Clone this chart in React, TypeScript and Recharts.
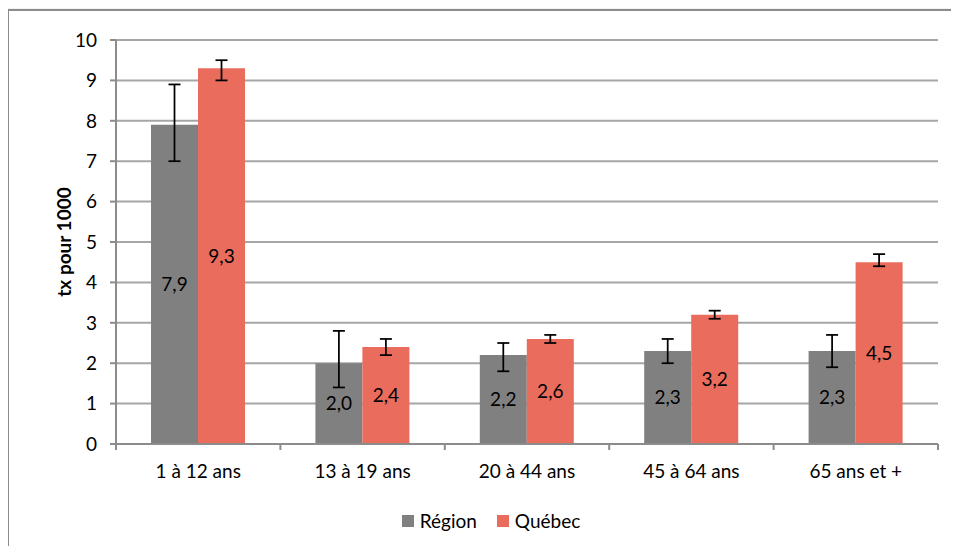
import React from 'react';
import { BarChart, Bar, XAxis, YAxis, CartesianGrid, ErrorBar, LabelList, Legend } from 'recharts';

const categories = ['1 à 12 ans', '13 à 19 ans', '20 à 44 ans', '45 à 64 ans', '65 ans et +'];
const regionValues = [7.9, 2.0, 2.2, 2.3, 2.3];
const quebecValues = [9.3, 2.4, 2.6, 3.2, 4.5];
// [minus, plus]
const regionErrors = [[0.9, 1.0], [0.6, 0.8], [0.4, 0.3], [0.3, 0.3], [0.4, 0.4]];
const quebecErrors = [[0.3, 0.2], [0.2, 0.2], [0.1, 0.1], [0.1, 0.1], [0.1, 0.2]];
const yTicks = [0, 1, 2, 3, 4, 5, 6, 7, 8, 9, 10];
const seriesNames = ['Région', 'Québec'];
const yTitle = 'tx pour 1000';

const data = categories.map((c, i) => ({
  cat: c,
  region: regionValues[i],
  quebec: quebecValues[i],
  regionErr: regionErrors[i],
  quebecErr: quebecErrors[i],
}));

const FONT = 'Lato, "Open Sans", sans-serif';
const GRAY = '#808080';
const RED = '#E96C5D';
const AXIS = '#8c8c8c';
const TICK_SIZE = 6;
const TICK_MARGIN = 15;

const fmt = (v: any) => (typeof v === 'number' ? v.toFixed(1).replace('.', ',') : v);

const XTick = (props: any) => {
  const { x, y, payload, index } = props;
  const half = payload && typeof payload.offset === 'number' && payload.offset > 0 ? payload.offset : 82.2;
  const axisY = y - TICK_SIZE - TICK_MARGIN;
  return (
    <g>
      <line x1={x - half} x2={x - half} y1={axisY} y2={axisY + TICK_SIZE} stroke={AXIS} strokeWidth={2} />
      {index === categories.length - 1 && (
        <line x1={x + half} x2={x + half} y1={axisY} y2={axisY + TICK_SIZE} stroke={AXIS} strokeWidth={2} />
      )}
      <text x={x} y={y} dy="0.71em" textAnchor="middle" fill="#000" fontSize={19} fontFamily={FONT}>
        {payload.value}
      </text>
    </g>
  );
};

const YTitle = (props: any) => {
  const vb = props.viewBox || { x: 0, y: 0, width: 0, height: 0 };
  const cx = 63;
  const cy = vb.y + vb.height / 2;
  return (
    <text
      x={cx}
      y={cy}
      transform={`rotate(-90, ${cx}, ${cy})`}
      textAnchor="middle"
      dominantBaseline="central"
      fontFamily={FONT}
      fontWeight="bold"
      fontSize={19}
      fill="#000"
    >
      {yTitle}
    </text>
  );
};

const LegendContent = () => (
  <div style={{ display: 'flex', justifyContent: 'center', alignItems: 'center', fontFamily: FONT, fontSize: 19, color: '#000' }}>
    {seriesNames.map((n, i) => (
      <div key={n} style={{ display: 'flex', alignItems: 'center', marginRight: i === 0 ? 20 : 0 }}>
        <span style={{ display: 'inline-block', width: 12, height: 12, background: i === 0 ? GRAY : RED, marginRight: 6 }} />
        <span>{n}</span>
      </div>
    ))}
  </div>
);

export default function App() {
  return (
    <div style={{ position: 'relative', width: 959, height: 554, margin: -8, background: '#f2f2f2', overflow: 'hidden' }}>
      <div style={{ position: 'absolute', left: 7, top: 9, width: 1000, height: 600, border: '2px solid #8c8c8c', background: '#fff' }} />
      <div style={{ position: 'absolute', left: 0, top: 0 }}>
        <BarChart
          width={959}
          height={554}
          data={data}
          margin={{ top: 40, right: 21, left: 56, bottom: 70 }}
          barSize={47}
          barGap={0}
        >
          <CartesianGrid horizontal vertical={false} stroke="#a6a6a6" strokeWidth={2} />
          <XAxis
            dataKey="cat"
            interval={0}
            tickLine={false}
            tickSize={TICK_SIZE}
            tickMargin={TICK_MARGIN}
            axisLine={{ stroke: AXIS, strokeWidth: 2 }}
            tick={<XTick />}
            height={40}
          />
          <YAxis
            domain={[0, 10]}
            ticks={yTicks}
            width={60}
            tickSize={TICK_SIZE}
            tickMargin={13}
            tickLine={{ stroke: AXIS, strokeWidth: 2 }}
            axisLine={{ stroke: AXIS, strokeWidth: 2 }}
            tick={{ fill: '#000', fontSize: 19, fontFamily: FONT }}
            label={{ content: <YTitle /> } as any}
          />
          <Legend
            layout="horizontal"
            verticalAlign="middle"
            align="center"
            content={<LegendContent />}
            wrapperStyle={{ position: 'absolute', top: 509, left: 23, width: 936 }}
          />
          <Bar dataKey="region" name={seriesNames[0]} fill={GRAY} isAnimationActive={false}>
            <ErrorBar dataKey="regionErr" width={6} stroke="#000" strokeWidth={1.75} direction="y" />
            <LabelList dataKey="region" position="center" formatter={fmt} fill="#000" fontSize={19} fontFamily={FONT} />
          </Bar>
          <Bar dataKey="quebec" name={seriesNames[1]} fill={RED} isAnimationActive={false}>
            <ErrorBar dataKey="quebecErr" width={6} stroke="#000" strokeWidth={1.75} direction="y" />
            <LabelList dataKey="quebec" position="center" formatter={fmt} fill="#000" fontSize={19} fontFamily={FONT} />
          </Bar>
        </BarChart>
      </div>
    </div>
  );
}
